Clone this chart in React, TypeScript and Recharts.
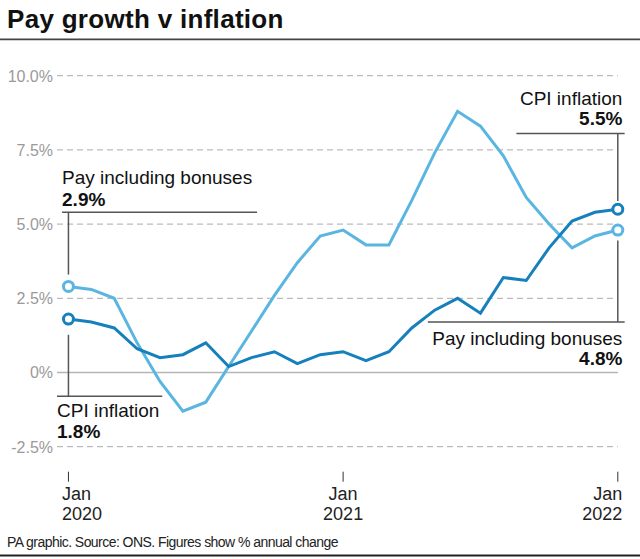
import React from 'react';
import { LineChart, Line, XAxis, YAxis, CartesianGrid, ReferenceLine, ReferenceDot } from 'recharts';

const months = [
  'Jan 2020', 'Feb 2020', 'Mar 2020', 'Apr 2020', 'May 2020', 'Jun 2020', 'Jul 2020', 'Aug 2020', 'Sep 2020', 'Oct 2020', 'Nov 2020', 'Dec 2020',
  'Jan 2021', 'Feb 2021', 'Mar 2021', 'Apr 2021', 'May 2021', 'Jun 2021', 'Jul 2021', 'Aug 2021', 'Sep 2021', 'Oct 2021', 'Nov 2021', 'Dec 2021',
  'Jan 2022',
];
const payIncludingBonuses = [2.9, 2.8, 2.5, 1.0, -0.3, -1.3, -1.0, 0.2, 1.4, 2.6, 3.7, 4.6, 4.8, 4.3, 4.3, 5.8, 7.4, 8.8, 8.3, 7.3, 5.9, 5.0, 4.2, 4.6, 4.8];
const cpiInflation = [1.8, 1.7, 1.5, 0.8, 0.5, 0.6, 1.0, 0.2, 0.5, 0.7, 0.3, 0.6, 0.7, 0.4, 0.7, 1.5, 2.1, 2.5, 2.0, 3.2, 3.1, 4.2, 5.1, 5.4, 5.5];

const xTicks = [0, 12, 24];
const xTickLabels = [['Jan', '2020'], ['Jan', '2021'], ['Jan', '2022']];
const yTicks = [-2.5, 0, 2.5, 5, 7.5, 10];
const yTickLabels = ['-2.5%', '0%', '2.5%', '5.0%', '7.5%', '10.0%'];

const data = months.map((m, i) => ({ i, month: m, pay: payIncludingBonuses[i], cpi: cpiInflation[i] }));

const FONT = '"Liberation Sans", Arial, Helvetica, sans-serif';
const LIGHT = '#5ab6e1';
const DARK = '#1680bd';
const ANN = '#555555';

const XTick = (props: any) => {
  const { x, y, payload } = props;
  const k = xTicks.indexOf(payload.value);
  if (k < 0) return <g />;
  const [l1, l2] = xTickLabels[k];
  const last = xTicks.length - 1;
  const anchor = k === 0 ? 'start' : k === last ? 'end' : 'middle';
  const dx = k === 0 ? -6.5 : k === last ? 4.5 : 0;
  return (
    <g>
      <line x1={x} x2={x} y1={y + 25} y2={y + 35} stroke="#333" strokeWidth={1} />
      <text x={x + dx} y={y + 53.3} textAnchor={anchor} fontFamily={FONT} fontSize={18} fill="#222">{l1}</text>
      <text x={x + dx} y={y + 73.3} textAnchor={anchor} fontFamily={FONT} fontSize={18} fill="#222">{l2}</text>
    </g>
  );
};

const YTick = (props: any) => {
  const { x, y, payload } = props;
  const k = yTicks.indexOf(payload.value);
  return (
    <text x={x} y={y} dy={5.8} textAnchor="end" fontFamily={FONT} fontSize={16} fill="#9a9a9a">
      {k >= 0 ? yTickLabels[k] : ''}
    </text>
  );
};

const makeDot = (color: string) => (p: any) => {
  const n = data.length - 1;
  if (p.index === 0 || p.index === n) {
    return <circle key={`d${p.index}`} cx={p.cx} cy={p.cy} r={5} fill="#fff" stroke={color} strokeWidth={3} />;
  }
  return <g key={`d${p.index}`} />;
};

const makeLabel = (title: string, value: string, anchor: 'start' | 'end', titleDy: number, valueDy: number) => (p: any) => (
  <g>
    <text x={p.cx} y={p.cy + titleDy} textAnchor={anchor} fontFamily={FONT} fontSize={19} fill="#111">{title}</text>
    <text x={p.cx} y={p.cy + valueDy} textAnchor={anchor} fontFamily={FONT} fontSize={19} fontWeight="bold" fill="#111">{value}</text>
  </g>
);

export default function App() {
  return (
    <div style={{ position: 'absolute', left: 0, top: 0, width: 640, height: 559, background: '#fff', overflow: 'hidden' }}>
      <LineChart
        width={640}
        height={559}
        data={data}
        margin={{ top: 75.7, right: 22.2, bottom: 32.3, left: 7 }}
      >
        <CartesianGrid horizontal vertical={false} stroke="#aaaaaa" strokeDasharray="6 4" strokeWidth={1} />
        <XAxis
          dataKey="i"
          type="number"
          domain={[-0.5, 24]}
          ticks={xTicks}
          tick={<XTick />}
          tickLine={false}
          axisLine={false}
          tickSize={0}
          tickMargin={0}
          height={80}
          interval={0}
        />
        <YAxis
          type="number"
          domain={[-2.5, 10]}
          ticks={yTicks}
          tick={<YTick />}
          tickLine={false}
          axisLine={false}
          tickSize={0}
          tickMargin={4}
          width={50}
          interval={0}
        />
        <ReferenceLine y={0} stroke="#b5b5b5" strokeWidth={1.5} />

        {/* Pay including bonuses 2.9% (top left) */}
        <ReferenceLine segment={[{ x: -0.28, y: 5.4 }, { x: 8.24, y: 5.4 }]} stroke={ANN} strokeWidth={1.5} ifOverflow="visible" />
        <ReferenceLine segment={[{ x: 0, y: 5.4 }, { x: 0, y: 3.3 }]} stroke={ANN} strokeWidth={1.5} ifOverflow="visible" />
        <ReferenceDot x={-0.28} y={5.4} r={0} ifOverflow="visible" shape={makeLabel('Pay including bonuses', '2.9%', 'start', -28.7, -6.7)} />

        {/* CPI inflation 1.8% (bottom left) */}
        <ReferenceLine segment={[{ x: -0.5, y: -0.8 }, { x: 4.1, y: -0.8 }]} stroke={ANN} strokeWidth={1.5} ifOverflow="visible" />
        <ReferenceLine segment={[{ x: 0, y: 1.27 }, { x: 0, y: -0.8 }]} stroke={ANN} strokeWidth={1.5} ifOverflow="visible" />
        <ReferenceDot x={-0.5} y={-0.8} r={0} ifOverflow="visible" shape={makeLabel('CPI inflation', '1.8%', 'start', 20.7, 42)} />

        {/* CPI inflation 5.5% (top right) */}
        <ReferenceLine segment={[{ x: 19.57, y: 8.05 }, { x: 24.3, y: 8.05 }]} stroke={ANN} strokeWidth={1.5} ifOverflow="visible" />
        <ReferenceLine segment={[{ x: 24, y: 8.05 }, { x: 24, y: 5.78 }]} stroke={ANN} strokeWidth={1.5} ifOverflow="visible" />
        <ReferenceDot x={24.2} y={8.05} r={0} ifOverflow="visible" shape={makeLabel('CPI inflation', '5.5%', 'end', -28.6, -8.6)} />

        {/* Pay including bonuses 4.8% (bottom right) */}
        <ReferenceLine segment={[{ x: 24, y: 4.45 }, { x: 24, y: 1.7 }]} stroke={ANN} strokeWidth={1.5} ifOverflow="visible" />
        <ReferenceLine segment={[{ x: 15.7, y: 1.7 }, { x: 24.3, y: 1.7 }]} stroke={ANN} strokeWidth={1.5} ifOverflow="visible" />
        <ReferenceDot x={24.2} y={1.7} r={0} ifOverflow="visible" shape={makeLabel('Pay including bonuses', '4.8%', 'end', 22.7, 42.7)} />

        <Line type="linear" dataKey="pay" stroke={LIGHT} strokeWidth={3} dot={makeDot(LIGHT)} activeDot={false} isAnimationActive={false} />
        <Line type="linear" dataKey="cpi" stroke={DARK} strokeWidth={3} dot={makeDot(DARK)} activeDot={false} isAnimationActive={false} />
      </LineChart>
      <svg width={640} height={559} style={{ position: 'absolute', left: 0, top: 0, pointerEvents: 'none' }}>
        <text x={7} y={27.5} fontFamily={FONT} fontSize={26} fontWeight="bold" letterSpacing={0.3} fill="#111">Pay growth v inflation</text>
        <line x1={0} x2={640} y1={39.3} y2={39.3} stroke="#444" strokeWidth={1.8} />
        <text x={7} y={547.3} fontFamily={FONT} fontSize={14} letterSpacing={-0.55} fill="#222">PA graphic. Source: ONS. Figures show % annual change</text>
        <line x1={0} x2={640} y1={555.5} y2={555.5} stroke="#222" strokeWidth={2} />
      </svg>
    </div>
  );
}
